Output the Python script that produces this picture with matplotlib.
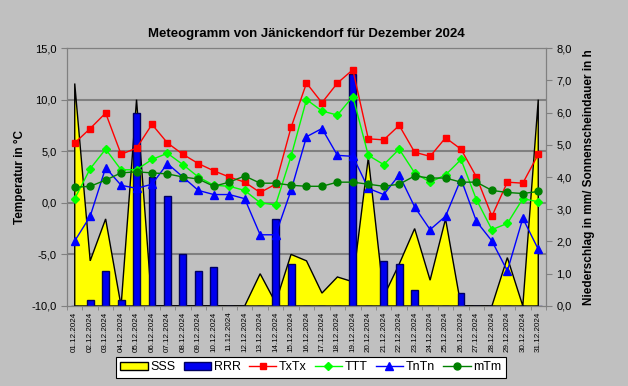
import matplotlib
matplotlib.use("Agg")
import matplotlib.pyplot as plt
from matplotlib.patches import Patch
from matplotlib.lines import Line2D
from matplotlib.ticker import FuncFormatter, MultipleLocator
import numpy as np

plt.rcParams['font.family'] = ['Liberation Sans', 'DejaVu Sans']

# Tage im Dezember 2024
days = [f"{d:02d}.12.2024" for d in range(1, 32)]

# Temperaturen in °C
txtx = [5.8, 7.2, 8.7, 4.7, 5.3, 7.6, 5.8, 4.7, 3.8, 3.1, 2.5, 2.0, 1.0, 1.8, 7.3, 11.6,
        9.7, 11.6, 12.9, 6.2, 6.1, 7.5, 4.9, 4.5, 6.3, 5.2, 2.5, -1.3, 2.0, 1.9, 4.7]
ttt = [0.4, 3.3, 5.2, 3.2, 3.2, 4.2, 4.8, 3.7, 2.5, 1.7, 1.6, 1.2, 0.0, -0.2, 4.5, 10.0,
       8.9, 8.5, 10.3, 4.6, 3.7, 5.2, 2.9, 2.0, 2.7, 4.2, 0.3, -2.6, -2.0, 0.4, 0.1]
tntn = [-3.7, -1.3, 3.4, 1.7, 1.4, 1.8, 3.8, 2.5, 1.2, 0.8, 0.8, 0.4, -3.1, -3.1, 1.2, 6.4,
        7.2, 4.6, 4.5, 1.4, 0.8, 2.7, -0.4, -2.6, -1.3, 2.3, -1.8, -3.7, -6.6, -1.5, -4.5]
mtm = [1.5, 1.6, 2.2, 2.9, 3.0, 2.9, 2.8, 2.5, 2.3, 1.6, 2.0, 2.6, 1.9, 1.9, 1.7, 1.6,
       1.6, 2.0, 2.0, 1.8, 1.6, 1.8, 2.6, 2.4, 2.4, 2.0, 2.0, 1.2, 1.0, 0.9, 1.1]

# Sonnenscheindauer in h und Niederschlag in mm
sss = [6.9, 1.4, 2.7, 0.0, 6.4, 0.0, 0.0, 0.0, 0.0, 0.0, 0.0, 0.0, 1.0, 0.1, 1.6, 1.4,
       0.4, 0.9, 0.75, 4.6, 0.3, 1.3, 2.4, 0.8, 2.7, 0.0, 0.0, 0.0, 1.5, 0.0, 6.4]
rrr = [0.0, 0.2, 1.1, 0.2, 6.0, 4.0, 3.4, 1.6, 1.1, 1.2, 0.0, 0.0, 0.0, 2.7, 1.3, 0.0,
       0.0, 0.0, 7.2, 0.0, 1.4, 1.3, 0.5, 0.0, 0.0, 0.4, 0.0, 0.0, 0.0, 0.0, 0.0]

x = np.arange(len(days))
comma = FuncFormatter(lambda v, p: f"{v:.1f}".replace(".", ","))

fig = plt.figure(figsize=(6.28, 3.86), dpi=100, facecolor="#c0c0c0")
ax1 = fig.add_axes([0.1067, 0.2073, 0.7627, 0.6683])
ax2 = ax1.twinx()
# Niederschlag/Sonne unten, Temperaturen darueber
ax2.set_zorder(ax1.get_zorder() - 1)
ax1.patch.set_visible(False)
ax2.patch.set_facecolor("white")

# Gitterlinien hinter der Flaeche
for t in [10, 5, 0, -5]:
    ax2.plot([0, 1], [t, t], transform=ax1.get_yaxis_transform(), color="#808080",
             lw=1.5, zorder=0)

ax2.fill(np.r_[x[0], x, x[-1]], np.r_[0, sss, 0], facecolor="#ffff00", edgecolor="black",
         lw=1, zorder=1)
ax2.bar(x, rrr, width=0.45, color="#0000f0", edgecolor="#000060", lw=1, zorder=2)

ax1.plot(x, txtx, color="#ff0000", marker="s", ms=5, lw=1)
ax1.plot(x, ttt, color="#00ff00", marker="D", ms=4, lw=1)
ax1.plot(x, tntn, color="#0000ff", marker="^", ms=5.5, lw=1)
ax1.plot(x, mtm, color="#008000", marker="o", ms=5, lw=1)

ax1.set_xlim(-0.5, len(days) - 0.5)
ax1.set_ylim(-10, 15)
ax2.set_ylim(0, 8)
ax1.yaxis.set_major_locator(MultipleLocator(5))
ax2.yaxis.set_major_locator(MultipleLocator(1))
ax1.yaxis.set_major_formatter(comma)
ax2.yaxis.set_major_formatter(comma)

ax1.set_xticks(x)
ax1.set_xticklabels(days, rotation=90, fontsize=5.8)
ax1.set_xticks(np.arange(-0.5, len(days)), minor=True)
ax1.tick_params(axis="x", which="major", length=0, pad=4)
ax1.tick_params(axis="x", which="minor", length=3, color="#808080")
ax1.tick_params(axis="y", labelsize=8, length=4, color="#808080")
ax2.tick_params(axis="y", labelsize=8, length=4, color="#808080")

for ax in (ax1, ax2):
    for s in ax.spines.values():
        s.set_color("#808080")

ax1.set_ylabel("Temperatur in °C", fontsize=8.5, fontweight="bold")
ax2.set_ylabel("Niederschlag in mm/ Sonnenscheindauer in h", fontsize=8.5,
               fontweight="bold", labelpad=8)
ax1.set_title("Meteogramm von Jänickendorf für Dezember 2024", fontsize=9.5,
              fontweight="bold", pad=8)

handles = [
    Patch(facecolor="#ffff00", edgecolor="black", label="SSS"),
    Patch(facecolor="#0000f0", edgecolor="#000060", label="RRR"),
    Line2D([], [], color="#ff0000", marker="s", ms=5, lw=1, label="TxTx"),
    Line2D([], [], color="#00ff00", marker="D", ms=4, lw=1, label="TTT"),
    Line2D([], [], color="#0000ff", marker="^", ms=5.5, lw=1, label="TnTn"),
    Line2D([], [], color="#008000", marker="o", ms=5, lw=1, label="mTm"),
]
leg = fig.legend(handles=handles, loc="lower center", bbox_to_anchor=(0.495, 0.005), ncol=6,
                 fontsize=9, fancybox=False, edgecolor="black", framealpha=1,
                 handlelength=2.2, handletextpad=0.2, columnspacing=0.65,
                 borderpad=0.35)
leg.get_frame().set_linewidth(0.8)

fig.savefig("out.png", dpi=100, facecolor=fig.get_facecolor())
